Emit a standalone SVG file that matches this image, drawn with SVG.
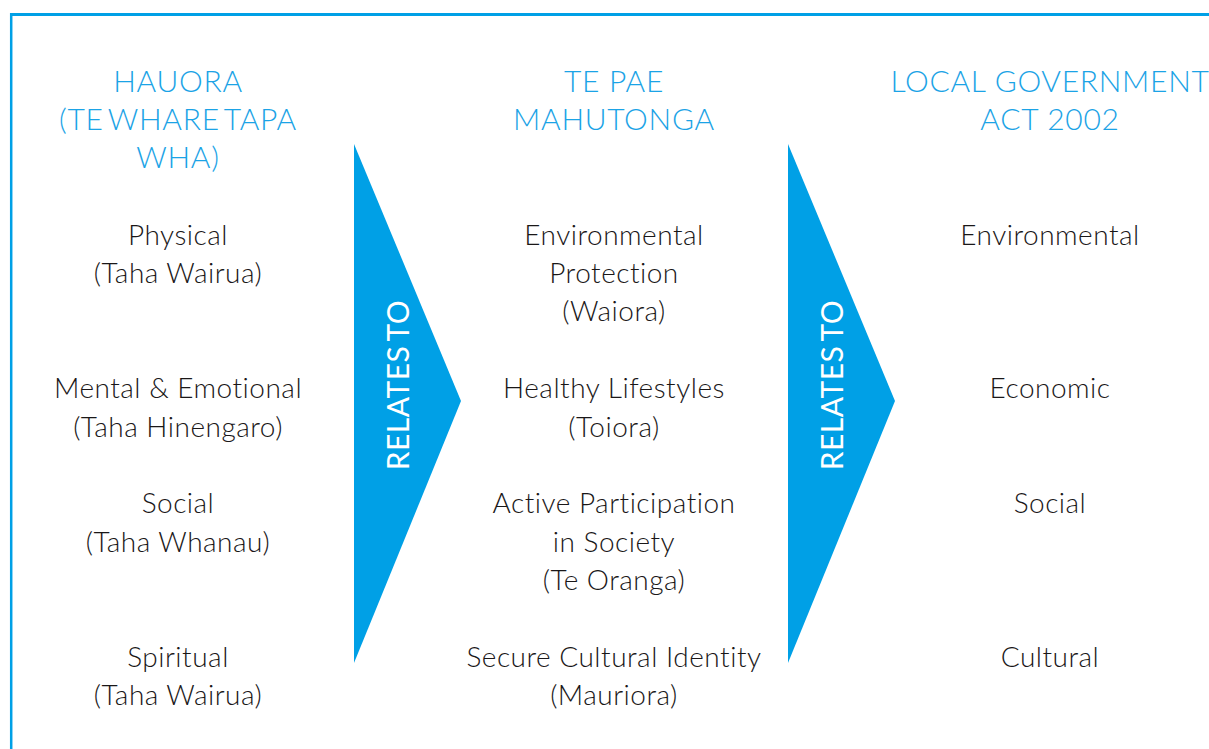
<svg xmlns="http://www.w3.org/2000/svg" width="1209" height="749" viewBox="0 0 1209 749">
<style>
.hd{font-family:Lato,"Open Sans",sans-serif;font-weight:300;font-size:30px;letter-spacing:0.7px;fill:#1ba3e6;text-anchor:middle}
.tx{font-family:Lato,"Open Sans",sans-serif;font-weight:300;font-size:28px;letter-spacing:0.5px;fill:#1a1718;text-anchor:middle}
.rl{font-family:Lato,"Open Sans",sans-serif;font-weight:400;font-size:30px;letter-spacing:0.5px;word-spacing:-3px;fill:#ffffff;text-anchor:middle}
.ar{fill:#00a0e6}
</style>
<rect width="1209" height="749" fill="#ffffff"/>
<g id="frame" fill="none" stroke="#00a0e6">
<line x1="10" y1="14.5" x2="1209" y2="14.5" stroke-width="3"/>
<line x1="11.2" y1="13" x2="11.2" y2="749" stroke-width="2.5"/>
</g>
<g id="col-hauora">
<text class="hd" x="178" y="92">HAUORA</text>
<text class="hd" x="178" y="130" style="word-spacing:-4px">(TE WHARE TAPA</text>
<text class="hd" x="178" y="168">WHA)</text>
</g>
<g id="col-tepae">
<text class="hd" x="614" y="92">TE PAE</text>
<text class="hd" x="614" y="130">MAHUTONGA</text>
</g>
<g id="col-lga">
<text class="hd" x="1050" y="92">LOCAL GOVERNMENT</text>
<text class="hd" x="1050" y="130">ACT 2002</text>
</g>
<g id="h-physical"><text class="tx" x="178" y="245">Physical</text><text class="tx" x="178" y="283">(Taha Wairua)</text></g>
<g id="h-mental"><text class="tx" x="178" y="398">Mental &amp; Emotional</text><text class="tx" x="178" y="437">(Taha Hinengaro)</text></g>
<g id="h-social"><text class="tx" x="178" y="513">Social</text><text class="tx" x="178" y="552">(Taha Whanau)</text></g>
<g id="h-spiritual"><text class="tx" x="178" y="667">Spiritual</text><text class="tx" x="178" y="705">(Taha Wairua)</text></g>
<g id="t-env"><text class="tx" x="614" y="245">Environmental</text><text class="tx" x="614" y="283">Protection</text><text class="tx" x="614" y="321">(Waiora)</text></g>
<g id="t-healthy"><text class="tx" x="614" y="398">Healthy Lifestyles</text><text class="tx" x="614" y="437">(Toiora)</text></g>
<g id="t-active"><text class="tx" x="614" y="513">Active Participation</text><text class="tx" x="614" y="552">in Society</text><text class="tx" x="614" y="590">(Te Oranga)</text></g>
<g id="t-secure"><text class="tx" x="614" y="667">Secure Cultural Identity</text><text class="tx" x="614" y="705">(Mauriora)</text></g>
<g id="l-env"><text class="tx" x="1050" y="245">Environmental</text></g>
<g id="l-eco"><text class="tx" x="1050" y="398">Economic</text></g>
<g id="l-soc"><text class="tx" x="1050" y="513">Social</text></g>
<g id="l-cul"><text class="tx" x="1050" y="667">Cultural</text></g>
<g id="connectors">
<g id="arrow1"><polygon class="ar" points="354,144 461,401 354,663"/><text class="rl" transform="translate(409,385) rotate(-90)">RELATES TO</text></g>
<g id="arrow2"><polygon class="ar" points="788,144 895,401 788,663"/><text class="rl" transform="translate(843,385) rotate(-90)">RELATES TO</text></g>
</g>
</svg>
